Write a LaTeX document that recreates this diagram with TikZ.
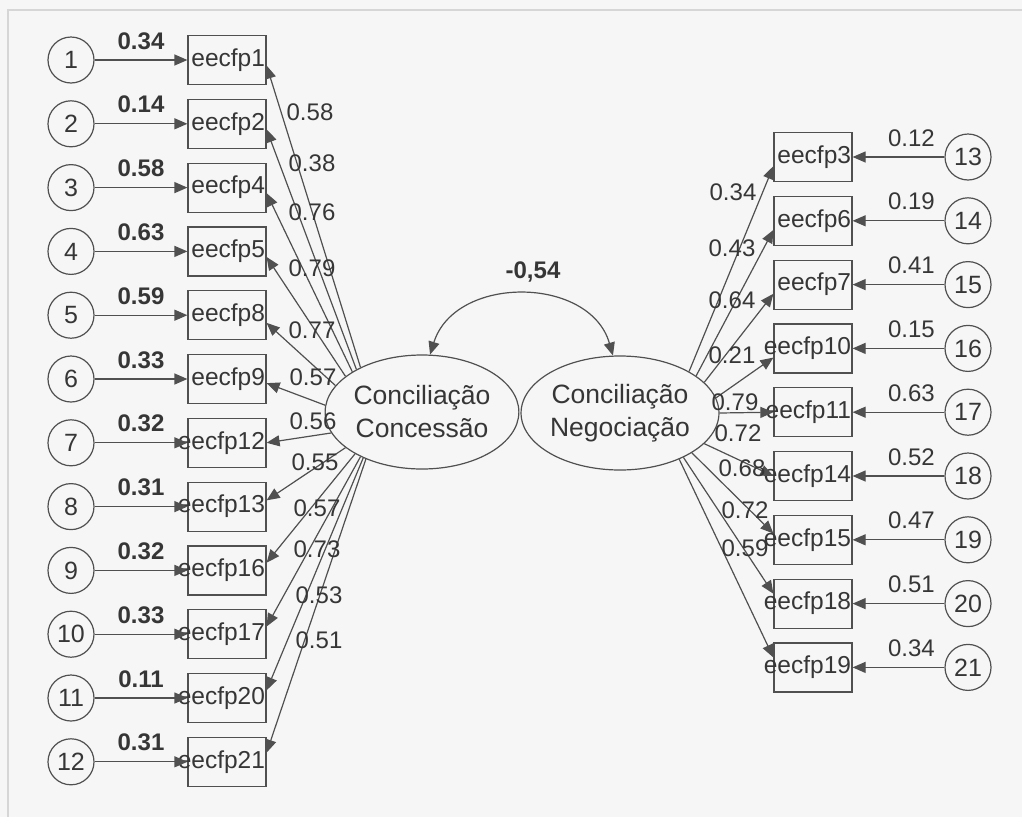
\documentclass[tikz,border=0pt]{standalone}
\usepackage{fontspec}
\setmainfont{Liberation Sans}
\usetikzlibrary{arrows.meta,shapes.geometric}
\definecolor{ink}{HTML}{363636}
\definecolor{edgec}{HTML}{505050}
\definecolor{framec}{HTML}{D6D6D6}
\definecolor{paper}{HTML}{F6F6F6}
\begin{document}
\begin{tikzpicture}[x=1pt,y=-1pt,
  font=\fontsize{24}{28}\selectfont, text=ink,
  obs/.style={draw=edgec, line width=1.2pt, minimum width=78pt, minimum height=49pt, inner sep=0pt, font=\fontsize{24.5}{28}\selectfont},
  err/.style={circle, draw=edgec, line width=1.2pt, minimum size=46pt, inner sep=0pt, font=\fontsize{25}{28}\selectfont},
  lat/.style={ellipse, draw=edgec, line width=1.2pt, minimum width=176pt, minimum height=114pt, inner sep=0pt, align=center, font=\fontsize{26.5}{33}\selectfont},
  arr/.style={draw=edgec, line width=1.2pt, -{Triangle[length=13pt,width=11pt]}},
  lbl/.style={inner sep=0pt}]
\fill[paper] (0,0) rectangle (1022,817);
\useasboundingbox (0,0) rectangle (1022,817);
\draw[framec, line width=2pt] (8,817) -- (8,10) -- (1022,10);

% latent variables
\node[lat] (cc) at (422,412) {Conciliação\\Concessão};
\node[lat] (cn) at (620,413) {Conciliação\\Negociação};
\draw[draw=edgec, line width=1.2pt, {Triangle[length=13pt,width=11pt]}-{Triangle[length=13pt,width=11pt]}]
  (cc.82) .. controls +(25,-80) and +(-23,-80) .. (cn.97);
\node[lbl, font=\fontsize{24}{28}\selectfont\bfseries] (corr) at (533,272) {-0,54};

% left side
\foreach \i/\nm/\a/\b/\r in {
  1/eecfp1/144.6/352/0.34, 2/eecfp2/147.1/352/0.14, 3/eecfp4/150.4/352/0.58,
  4/eecfp5/155.5/352/0.63, 5/eecfp8/163.5/349/0.59, 6/eecfp9/176.5/354/0.33,
  7/eecfp12/193.2/0/0.32, 8/eecfp13/205.4/9/0.31, 9/eecfp16/212.3/11/0.32,
  10/eecfp17/216.3/11/0.33, 11/eecfp20/218.9/11/0.11, 12/eecfp21/220.7/13/0.31} {
  \node[err] (e\i) at (71,{60+63.8*(\i-1)}) {\i};
  \node[obs] (b\i) at (227,{60+63.8*(\i-1)}) {\makebox[78pt][r]{\nm\hspace*{1pt}}};
  \draw[arr] (e\i) -- node[lbl, above=10pt, font=\fontsize{24}{28}\selectfont\bfseries] {\r} (b\i);
  \draw[arr] (cc.\a) -- (b\i.\b);
}
\foreach \x/\y/\v [count=\n] in {310/112/0.58, 312/163/0.38, 312/212/0.76, 312/268/0.79,
  312/330/0.77, 313/377/0.57, 313/421/0.56, 315/462/0.55, 317/508/0.57,
  317/549/0.73, 319/595/0.53, 319/640/0.51} {
  \node[lbl] (ll\n) at (\x,\y) {\v};
}

% right side
\foreach \k/\nm/\a/\b/\r in {
  13/eecfp3/31.2/193/0.12, 14/eecfp6/26.9/193/0.19, 15/eecfp7/20.3/193/0.41,
  16/eecfp10/9.7/193/0.15, 17/eecfp11/0/180/0.63, 18/eecfp14/340.5/180/0.52,
  19/eecfp15/331/171/0.47, 20/eecfp18/325.6/166/0.51, 21/eecfp19/322.3/166/0.34} {
  \node[err] (e\k) at (968,{157+63.8*(\k-13)}) {\k};
  \node[obs] (b\k) at (813,{157+63.8*(\k-13)}) {\makebox[78pt][r]{\nm\hspace*{1pt}}};
  \draw[arr] (e\k) -- node[lbl, pos=0.36, above=10pt] {\r} (b\k);
  \draw[arr] (cn.\a) -- (b\k.\b);
}
\foreach \x/\y/\v [count=\n] in {733/192/0.34, 732/248/0.43, 732/300/0.64, 732/355/0.21,
  735/402/0.79, 738/433/0.72, 742/468/0.68, 745/510/0.72, 745/548/0.59} {
  \node[lbl] (rl\n) at (\x,\y) {\v};
}
\end{tikzpicture}
\end{document}
